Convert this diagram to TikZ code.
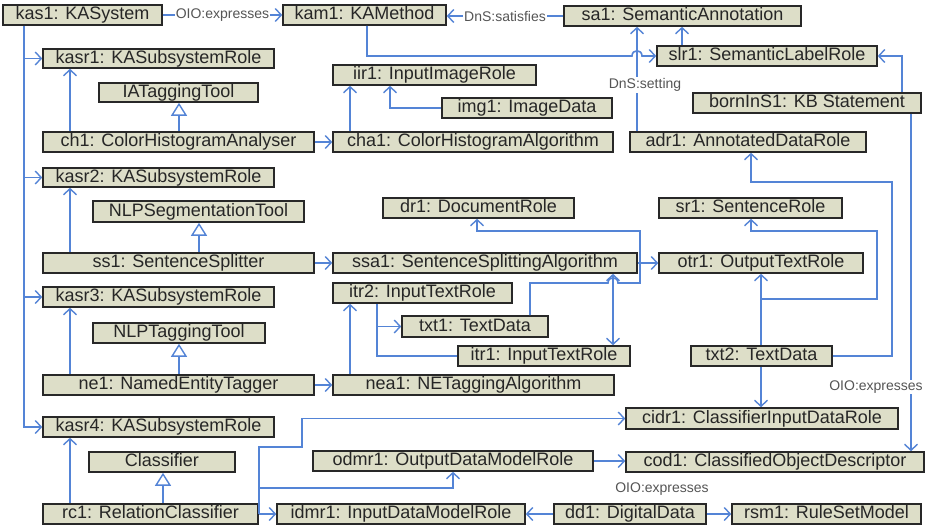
\documentclass[tikz,border=0pt]{standalone}
\usepackage{fontspec}
\setmainfont{Liberation Sans}
\usetikzlibrary{arrows.meta,shadows}
\definecolor{boxfill}{RGB}{221,222,200}
\definecolor{boxline}{RGB}{40,40,40}
\definecolor{linkblue}{RGB}{84,132,214}
\definecolor{lblgray}{RGB}{85,85,85}

\tikzset{
  box/.style={draw=boxline, line width=1.6pt, fill=boxfill, inner sep=0pt,
    text=black!85, text height=13pt, text depth=4pt,
    font=\fontsize{18}{20}\selectfont,
    drop shadow={shadow xshift=1.2pt, shadow yshift=-1.2pt, fill=black, opacity=0.35}},
  tip/.tip={Straight Barb[length=6pt, width=13pt, line width=1.4pt]},
  conn/.style={draw=linkblue, line width=1.6pt, -tip},
  plain/.style={draw=linkblue, line width=1.6pt},
  gen/.style={draw=linkblue, line width=1.6pt,
    -{Triangle[length=13pt, width=16pt, fill=white, line width=1.4pt]}},
  lbl/.style={fill=white, inner sep=1pt, text=lblgray, font=\fontsize{14}{16}\selectfont}
}

% \umlbox{name}{x1}{y1}{x2}{y2}{text}
\newcommand\umlbox[6]{%
  \pgfmathsetmacro\ubw{#4-#2}\pgfmathsetmacro\ubh{#5-#3}%
  \pgfmathsetmacro\ubx{(#2+#4)/2}\pgfmathsetmacro\uby{(#3+#5)/2}%
  \node[box, minimum width=\ubw pt, minimum height=\ubh pt] (#1) at (\ubx,\uby) {#6};}

\begin{document}
\begin{tikzpicture}[x=1pt, y=-1pt]
\useasboundingbox[fill=white] (0,0) rectangle (928,530);

% ---------- boxes ----------
\umlbox{kas1}{3}{5}{162}{25}{kas1: KASystem}
\umlbox{kam1}{283}{5}{446}{25}{kam1: KAMethod}
\umlbox{sa1}{564}{6}{801}{26}{sa1: SemanticAnnotation}
\umlbox{kasr1}{43}{49}{274}{68}{kasr1: KASubsystemRole}
\umlbox{slr1}{657}{46}{877}{66}{slr1: SemanticLabelRole}
\umlbox{iir1}{333}{65}{536}{85}{iir1: InputImageRole}
\umlbox{iatt}{99}{83}{258}{102}{IATaggingTool}
\umlbox{born}{693}{93}{921}{113}{bornInS1: KB Statement}
\umlbox{img1}{442}{98}{612}{118}{img1: ImageData}
\umlbox{ch1}{43}{132}{314}{152}{ch1: ColorHistogramAnalyser}
\umlbox{cha1}{333}{132}{613}{152}{cha1: ColorHistogramAlgorithm}
\umlbox{adr1}{630}{132}{866}{152}{adr1: AnnotatedDataRole}
\umlbox{kasr2}{43}{168}{274}{187}{kasr2: KASubsystemRole}
\umlbox{dr1}{383}{198}{574}{218}{dr1: DocumentRole}
\umlbox{sr1}{659}{198}{842}{218}{sr1: SentenceRole}
\umlbox{nlps}{93}{201}{304}{222}{NLPSegmentationTool}
\umlbox{ss1}{43}{253}{314}{273}{ss1: SentenceSplitter}
\umlbox{ssa1}{333}{253}{637}{273}{ssa1: SentenceSplittingAlgorithm}
\umlbox{otr1}{659}{253}{863}{273}{otr1: OutputTextRole}
\umlbox{itr2}{333}{283}{512}{303}{itr2: InputTextRole}
\umlbox{kasr3}{43}{287}{274}{307}{kasr3: KASubsystemRole}
\umlbox{txt1}{402}{316}{548}{337}{txt1: TextData}
\umlbox{nlpt}{93}{323}{265}{343}{NLPTaggingTool}
\umlbox{itr1}{458}{346}{630}{366}{itr1: InputTextRole}
\umlbox{txt2}{691}{346}{832}{366}{txt2: TextData}
\umlbox{ne1}{43}{375}{314}{395}{ne1: NamedEntityTagger}
\umlbox{nea1}{333}{375}{614}{395}{nea1: NETaggingAlgorithm}
\umlbox{cidr1}{626}{408}{898}{429}{cidr1: ClassifierInputDataRole}
\umlbox{kasr4}{43}{417}{274}{437}{kasr4: KASubsystemRole}
\umlbox{clf}{89}{452}{235}{472}{Classifier}
\umlbox{odmr1}{313}{451}{593}{471}{odmr1: OutputDataModelRole}
\umlbox{cod1}{626}{452}{924}{472}{cod1: ClassifiedObjectDescriptor}
\umlbox{rc1}{43}{504}{258}{524}{rc1: RelationClassifier}
\umlbox{idmr1}{277}{504}{525}{524}{idmr1: InputDataModelRole}
\umlbox{dd1}{554}{504}{706}{524}{dd1: DigitalData}
\umlbox{rsm1}{732}{504}{921}{524}{rsm1: RuleSetModel}

% ---------- lanes for vertical connectors ----------
\coordinate (lk) at (24,0);
\coordinate (lu) at (70,0);
\coordinate (g1) at (179,0);
\coordinate (g2) at (199,0);
\coordinate (g3) at (163,0);
\coordinate (xn) at (350,0);
\coordinate (xm) at (390,0);
\coordinate (xk) at (367,0);
\coordinate (xs) at (637,0);
\coordinate (xs2) at (682,0);
\coordinate (xb) at (902,0);
\coordinate (xc) at (911,0);
\coordinate (xa) at (751,0);
\coordinate (xo) at (761,0);
\coordinate (xd) at (477,0);
\coordinate (xt) at (530,0);
\coordinate (xi) at (613,0);
\coordinate (xr) at (377,0);
\coordinate (xq) at (453,0);

% ---------- connectors ----------
% system to its subsystem roles
\draw[conn] (kas1.south -| lk) |- (kasr4.west);
\foreach \r in {kasr1,kasr2,kasr3}
  \draw[conn] (\r.west -| lk) -- (\r.west);
\foreach \a/\b in {ch1/kasr1, ss1/kasr2, ne1/kasr3, rc1/kasr4}
  \draw[conn] (\a.north -| lu) -- (\b.south -| lu);

% generalisations
\draw[gen] (ch1.north -| g1) -- (iatt.south -| g1);
\draw[gen] (ss1.north -| g2) -- (nlps.south -| g2);
\draw[gen] (ne1.north -| g1) -- (nlpt.south -| g1);
\draw[gen] (rc1.north -| g3) -- (clf.south -| g3);

% tools to algorithms
\draw[conn] (ch1.east) -- (ch1.east -| cha1.west);
\draw[conn] (ss1.east) -- (ss1.east -| ssa1.west);
\draw[conn] (ne1.east) -- (ne1.east -| nea1.west);

% top row
\draw[conn] (kas1.east) -- node[lbl] {OIO:expresses} (kas1.east -| kam1.west);
\draw[conn] (sa1.west) -- node[lbl] {DnS:satisfies} (sa1.west -| kam1.east);

% method to semantic label role, hopping over the setting link
\draw[conn] (kam1.south -| xk) |- (632,56) .. controls (632,49) and (642,49) .. (642,56) -- (slr1.west);
\draw[conn] (adr1.north -| xs) -- (sa1.south -| xs);
\node[lbl] (lset) at (645,85) {DnS:setting};
\draw[conn] (slr1.north -| xs2) -- (sa1.south -| xs2);
\draw[conn] (born.north -| xb) |- (slr1.east);
\draw[conn] (born.south -| xc) -- (cod1.north -| xc);
\node[lbl] (lexp1) at (876,387) {OIO:expresses};

% image branch
\draw[conn] (cha1.north -| xn) -- (iir1.south -| xn);
\draw[conn] (img1.west) -| (iir1.south -| xm);

% text branch
\draw[conn] (txt2.east) -| (892,182) -| (adr1.south -| xa);
\draw[conn] (txt2.north -| xo) -- (otr1.south -| xo);
\coordinate (j1) at (761,299);
\draw[conn] (j1) -| (877,231) -| (sr1.south -| xa);
\draw[conn] (txt2.south -| xo) -- (cidr1.north -| xo);
\draw[conn] (ssa1.east) -- (ssa1.east -| otr1.west);
\draw[conn] (txt1.north -| xt) |- (608,283) .. controls (608,276) and (618,276) .. (618,283) -| (640,231) -| (dr1.south -| xd);
\draw[plain, tip-tip] (ssa1.south -| xi) -- (itr1.north -| xi);
\draw[conn] (nea1.north -| xn) -- (itr2.south -| xn);
\draw[conn] (itr2.south -| xr) |- (txt1.west);
\draw[plain] (xr |- txt1.west) |- (itr1.west);

% classifier branch
\draw[conn] (rc1.east) -- (rc1.east -| idmr1.west);
\draw[conn] (rc1.east) |- (302,447) |- (cidr1.west);
\coordinate (j2) at (258,488);
\draw[conn] (j2) -| (odmr1.south -| xq);
\draw[conn] (odmr1.east) -- (odmr1.east -| cod1.west);
\draw[conn] (dd1.west) -- (dd1.west -| idmr1.east);
\draw[conn] (dd1.east) -- (dd1.east -| rsm1.west);
\node[lbl] (lexp2) at (662,489) {OIO:expresses};
\end{tikzpicture}
\end{document}
